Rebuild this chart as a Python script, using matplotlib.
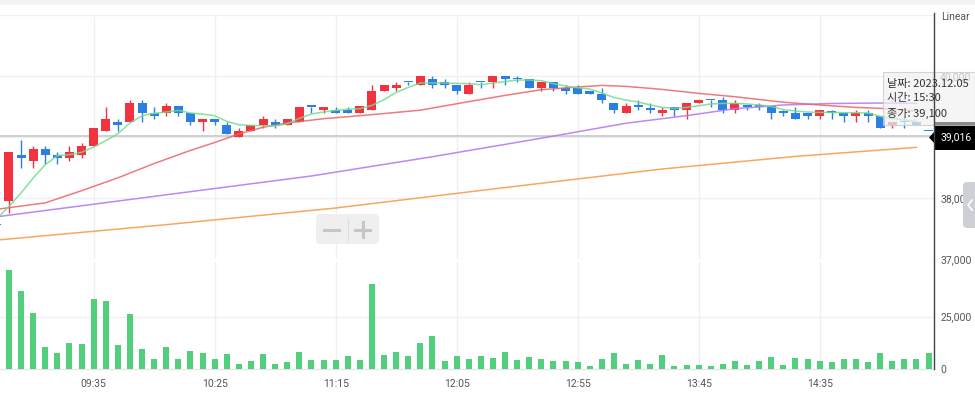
import matplotlib
matplotlib.use('Agg')
import matplotlib.pyplot as plt
from matplotlib.patches import Rectangle, FancyBboxPatch, Polygon
from matplotlib.lines import Line2D
from matplotlib.transforms import IdentityTransform

plt.rcParams['font.family'] = ['Roboto', 'Noto Sans CJK KR', 'DejaVu Sans']

W, H = 975, 398

# 5 minute candles; index -1 is the previous session's last bar
bar_idx = list(range(-1, 77))
opens = [37550, 37950, 38700, 38600, 38800, 38700, 38650, 38700, 38850, 39100,
         39250, 39250, 39550, 39400, 39400, 39500, 39400, 39250, 39300, 39200,
         39000, 39100, 39200, 39250, 39200, 39250, 39500, 39450, 39450, 39450,
         39400, 39450, 39750, 39800, 39900, 39850, 39950, 39900, 39850, 39700,
         39900, 39900, 40000, 39950, 39950, 39800, 39900, 39800, 39800, 39750,
         39700, 39550, 39400, 39500, 39450, 39400, 39500, 39450, 39550, 39600,
         39600, 39450, 39500, 39500, 39500, 39400, 39400, 39400, 39350, 39400,
         39400, 39350, 39400, 39350, 39200, 39250, 39250, 39100]
highs = [37550, 38750, 38950, 38850, 38850, 38750, 38850, 38900, 39150, 39500,
         39300, 39600, 39600, 39500, 39550, 39500, 39400, 39300, 39300, 39250,
         39150, 39200, 39350, 39300, 39300, 39500, 39500, 39500, 39500, 39500,
         39500, 39850, 39850, 39900, 39900, 40000, 40000, 39950, 39850, 39900,
         39900, 40000, 40000, 40000, 39950, 39900, 39900, 39850, 39850, 39750,
         39800, 39550, 39550, 39600, 39550, 39500, 39500, 39550, 39600, 39600,
         39650, 39600, 39500, 39550, 39500, 39450, 39500, 39400, 39450, 39450,
         39400, 39450, 39450, 39350, 39250, 39350, 39250, 39100]
lows = [37550, 37750, 38500, 38500, 38550, 38550, 38600, 38650, 38850, 39100,
        39100, 39250, 39250, 39300, 39350, 39350, 39200, 39100, 39200, 39050,
        39000, 39100, 39150, 39150, 39200, 39250, 39400, 39400, 39400, 39400,
        39400, 39450, 39750, 39750, 39850, 39850, 39800, 39800, 39700, 39700,
        39800, 39800, 39850, 39900, 39800, 39750, 39750, 39700, 39700, 39700,
        39550, 39400, 39400, 39450, 39400, 39350, 39350, 39300, 39550, 39500,
        39400, 39400, 39450, 39450, 39300, 39350, 39300, 39300, 39300, 39300,
        39250, 39250, 39250, 39150, 39150, 39150, 39200, 39100]
closes = [37550, 38750, 38650, 38800, 38700, 38650, 38750, 38850, 39150, 39300,
          39200, 39550, 39400, 39350, 39500, 39400, 39250, 39300, 39250, 39050,
          39100, 39200, 39300, 39200, 39300, 39500, 39500, 39500, 39400, 39400,
          39500, 39750, 39850, 39850, 39900, 40000, 39850, 39850, 39750, 39850,
          39900, 40000, 39950, 39950, 39800, 39900, 39800, 39750, 39700, 39700,
          39600, 39450, 39500, 39500, 39450, 39450, 39450, 39550, 39600, 39600,
          39450, 39550, 39500, 39500, 39400, 39400, 39300, 39350, 39450, 39400,
          39350, 39400, 39350, 39150, 39250, 39250, 39200, 39100]

vol_idx = list(range(0, 77))
volumes = [47300, 37300, 26800, 10500, 7650, 12400, 11950, 33450, 32500, 11470,
           26300, 9560, 4780, 10500, 4780, 8600, 7650, 4780, 7170, 2390,
           3820, 7170, 2390, 3340, 8130, 4300, 4300, 4300, 6210, 4300,
           40600, 6690, 8130, 6210, 12400, 15800, 3820, 6210, 4780, 6210,
           5260, 8130, 4300, 5740, 4780, 3820, 3820, 3350, 1430, 4780,
           7650, 2390, 4300, 2390, 6690, 1430, 1910, 1910, 1430, 2390,
           3820, 1910, 3820, 5740, 1910, 5260, 4780, 3820, 3350, 4780,
           4780, 3350, 7650, 3820, 4780, 4780, 7650]

# moving averages
ma5_idx = list(range(-1, 76))
ma5 = [37660, 37863, 38082, 38328, 38546, 38694, 38710, 38748, 38836, 38940,
       39054, 39230, 39349, 39387, 39410, 39436, 39393, 39377, 39349, 39256,
       39202, 39190, 39185, 39180, 39218, 39305, 39377, 39410, 39436, 39453,
       39464, 39518, 39612, 39731, 39813, 39885, 39885, 39885, 39879, 39874,
       39857, 39885, 39907, 39934, 39934, 39923, 39874, 39836, 39808, 39787,
       39721, 39649, 39605, 39574, 39525, 39485, 39469, 39485, 39513, 39541,
       39551, 39551, 39541, 39525, 39502, 39448, 39426, 39410, 39403, 39403,
       39398, 39398, 39393, 39338, 39300, 39279, 39256]
ma20_idx = [-1, 3, 6, 9, 12, 15, 17, 19, 21, 23, 26, 30, 34, 38, 41, 44, 47,
            49, 51, 54, 57, 60, 64, 67, 70, 72, 75]
ma20 = [37815, 37920, 38120, 38330, 38565, 38780, 38910, 39050, 39160, 39230,
        39300, 39366, 39440, 39580, 39682, 39775, 39820, 39846, 39830, 39780,
        39715, 39660, 39570, 39525, 39485, 39470, 39425]
ma60_idx = [-1, 12, 25, 35, 44, 51, 56, 60, 64, 68, 72, 75]
ma60 = [37692, 38027, 38361, 38677, 38980, 39226, 39350, 39464, 39525, 39549,
        39557, 39551]
ma120_idx = [-1, 13, 27, 40, 54, 65, 75]
ma120 = [37310, 37563, 37836, 38148, 38476, 38682, 38830]

xtick_idx = [7, 17, 27, 37, 47, 57, 67]
xtick_labels = ['09:35', '10:25', '11:15', '12:05', '12:55', '13:45', '14:35']
last_price = 39016
tooltip_lines = ['날짜: 2023.12.05', '시간: 15:30', '종가: 39,100']

RED = '#f2323f'
BLUE = '#2b7fe3'
GRID = '#f0f0f0'
LBL = '#555555'


def P(x, y):
    # pixel position measured from the top left
    return (x, H - y)


fig = plt.figure(figsize=(W / 100, H / 100), dpi=100)
fig.patch.set_facecolor('white')

ax = fig.add_axes([0, (H - 259) / H, 934 / W, (259 - 15) / H])
axv = fig.add_axes([0, (H - 369) / H, 934 / W, (369 - 262) / H])

for a in (ax, axv):
    a.set_xlim(-0.74, 76.45)
    for s in a.spines.values():
        s.set_visible(False)
    a.set_xticks(xtick_idx)
    a.grid(True, color=GRID, lw=1.0, zorder=0)
    a.set_axisbelow(True)
    a.yaxis.tick_right()
    a.tick_params(axis='y', length=0, pad=4.5, labelsize=7.5, labelcolor=LBL)
    a.tick_params(axis='x', length=0)

ax.set_ylim(37000, 41000)
ax.set_yticks([37000, 38000, 39000, 40000, 41000])
ax.set_yticklabels(['37,000', '38,000', '', '40,000', ''])
ax.tick_params(axis='x', labelbottom=False)

axv.set_ylim(0, 51000)
axv.set_yticks([0, 25000])
axv.set_yticklabels(['0', '25,000'])
axv.set_xticklabels(xtick_labels)
axv.tick_params(axis='x', pad=7, labelsize=7.5, labelcolor=LBL)
axv.spines['bottom'].set_visible(True)
axv.spines['bottom'].set_color('#e6e6e6')

# candles
colors = [RED if c > o else BLUE for o, c in zip(opens, closes)]
bottoms = [min(o, c) for o, c in zip(opens, closes)]
heights = [max(abs(c - o), 20) for o, c in zip(opens, closes)]
ax.vlines(bar_idx, lows, highs, colors=colors, lw=1.0, zorder=2)
ax.bar(bar_idx, heights, bottom=bottoms, width=0.74, color=colors,
       linewidth=0, zorder=3)

ax.axhline(last_price, color='#c8c8c8', lw=1.2, zorder=1)

ax.plot(ma120_idx, ma120, color='#f5a04c', lw=1.1, alpha=0.9, zorder=4)
ax.plot(ma60_idx, ma60, color='#b57cf2', lw=1.1, alpha=0.9, zorder=4)
ax.plot(ma20_idx, ma20, color='#ea6468', lw=1.1, alpha=0.85, zorder=4)
ax.plot(ma5_idx, ma5, color='#72dc8c', lw=1.1, alpha=0.85, zorder=4)

axv.bar(vol_idx, volumes, width=0.5, color='#52cf7d', linewidth=0, zorder=3)

T = IdentityTransform()

# top strip and right axis line
fig.add_artist(Rectangle(P(0, 5), W, 5, transform=T, color='#f4f4f4', lw=0))
fig.add_artist(Line2D([934, 934], [H - 13, H - 369], transform=T,
                      color='#444444', lw=1.0))
fig.text(941, H - 17, 'Linear', transform=T, fontsize=7.5, color=LBL,
         va='center', ha='left')

# zoom buttons
fig.add_artist(FancyBboxPatch(P(316, 244), 63, 30, transform=T,
                              boxstyle='round,pad=0,rounding_size=4',
                              fc='#efefef', ec='none'))
fig.add_artist(Line2D([348, 348], [H - 219, H - 240], transform=T,
                      color='#dcdcdc', lw=0.8))
fig.add_artist(Line2D([324, 339], [H - 229.5, H - 229.5], transform=T,
                      color='#c6c6c6', lw=2.2))
fig.add_artist(Line2D([355, 370], [H - 229.5, H - 229.5], transform=T,
                      color='#c6c6c6', lw=2.2))
fig.add_artist(Line2D([362.5, 362.5], [H - 222, H - 237], transform=T,
                      color='#c6c6c6', lw=2.2))

# side tab
fig.add_artist(FancyBboxPatch(P(963, 228), 20, 46, transform=T,
                              boxstyle='round,pad=0,rounding_size=4',
                              fc='#cdd0d5', ec='none'))
fig.add_artist(Line2D([972, 968, 972], [H - 200, H - 205, H - 210],
                      transform=T, color='white', lw=1.2))

# last price label
fig.add_artist(Polygon([P(929, 137.5), P(935, 131), P(935, 125), P(975, 125),
                        P(975, 150), P(935, 150), P(935, 144)],
                       closed=True, transform=T, fc='black', ec='none'))
fig.text(956, H - 137.5, f'{last_price:,}', transform=T, fontsize=7.5,
         color='white', va='center', ha='center')

# tooltip, drawn over the 40,000 label like the original
fig.add_artist(Rectangle(P(883, 125), 92, 53, transform=T, fc='#f2f2f2',
                         ec='#c4c4c4', lw=0.8, alpha=0.72))
fig.add_artist(Rectangle(P(934, 125), 41, 3.5, transform=T, fc='#8c8c8c',
                         ec='none'))
for k, line in enumerate(tooltip_lines):
    fig.text(887, H - (84 + 14.5 * k), line, transform=T, fontsize=8,
             color='#333333', va='center', ha='left',
             family=['Noto Sans CJK KR', 'DejaVu Sans'])

fig.savefig('out.png', dpi=100)
